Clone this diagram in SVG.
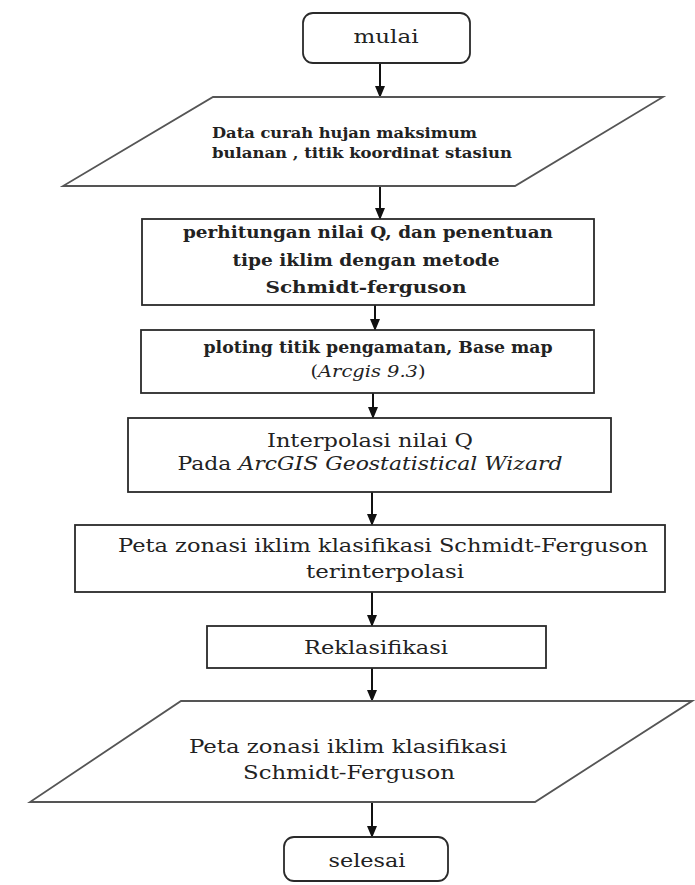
<svg xmlns="http://www.w3.org/2000/svg" width="695" height="885" viewBox="0 0 695 885">
<style>
.box{fill:#fff;stroke:#2a2a2a;stroke-width:1.8}
.io{fill:#fff;stroke:#555;stroke-width:1.8}
.t{font-family:"DejaVu Serif","Liberation Serif",serif;fill:#222}
.b{font-weight:bold}
.c{text-anchor:middle}
.conn{stroke:#111;stroke-width:2;fill:none;marker-end:url(#ah)}
</style>
<defs>
<marker id="ah" markerWidth="12" markerHeight="10" refX="11" refY="5" orient="auto" markerUnits="userSpaceOnUse" viewBox="0 0 12 10">
<path d="M0,0 L12,5 L0,10 Z" fill="#111"/>
</marker>
</defs>
<g id="connectors">
<line class="conn" x1="380" y1="63" x2="380" y2="97"/>
<line class="conn" x1="380" y1="186" x2="380" y2="219"/>
<line class="conn" x1="375" y1="305" x2="375" y2="330"/>
<line class="conn" x1="373" y1="393" x2="373" y2="418"/>
<line class="conn" x1="372" y1="492" x2="372" y2="525"/>
<line class="conn" x1="372" y1="592" x2="372" y2="626"/>
<line class="conn" x1="372" y1="668" x2="372" y2="701"/>
<line class="conn" x1="372" y1="802" x2="372" y2="837"/>
</g>
<g id="mulai">
<rect class="box" x="303" y="13" width="167" height="50" rx="10"/>
<text class="t c" x="386" y="43" font-size="18" textLength="65" lengthAdjust="spacingAndGlyphs">mulai</text>
</g>
<g id="data">
<polygon class="io" points="213,97 663,97 515,186 63,186"/>
<text class="t b" x="212" y="138" font-size="15" textLength="265" lengthAdjust="spacingAndGlyphs">Data curah hujan maksimum</text>
<text class="t b" x="212" y="158" font-size="15" textLength="300" lengthAdjust="spacingAndGlyphs">bulanan , titik koordinat stasiun</text>
</g>
<g id="perhitungan">
<rect class="box" x="142" y="219" width="452" height="86"/>
<text class="t b c" x="368" y="238" font-size="16" textLength="370" lengthAdjust="spacingAndGlyphs">perhitungan nilai Q, dan penentuan</text>
<text class="t b c" x="366" y="266" font-size="16" textLength="267" lengthAdjust="spacingAndGlyphs">tipe iklim dengan metode</text>
<text class="t b c" x="366" y="293" font-size="16" textLength="201" lengthAdjust="spacingAndGlyphs">Schmidt-ferguson</text>
</g>
<g id="ploting">
<rect class="box" x="141" y="330" width="453" height="63"/>
<text class="t b c" x="378" y="353" font-size="16" textLength="349" lengthAdjust="spacingAndGlyphs">ploting titik pengamatan, Base map</text>
<text class="t c" x="368" y="377" font-size="16" textLength="115" lengthAdjust="spacingAndGlyphs">(<tspan font-style="italic">Arcgis 9.3</tspan>)</text>
</g>
<g id="interpolasi">
<rect class="box" x="128" y="418" width="483" height="74"/>
<text class="t c" x="370" y="447" font-size="19" textLength="206" lengthAdjust="spacingAndGlyphs">Interpolasi nilai Q</text>
<text class="t c" x="370" y="470" font-size="19" textLength="385" lengthAdjust="spacingAndGlyphs">Pada <tspan font-style="italic">ArcGIS Geostatistical Wizard</tspan></text>
</g>
<g id="peta-terinterpolasi">
<rect class="box" x="75" y="525" width="590" height="67"/>
<text class="t c" x="383" y="552" font-size="19" textLength="530" lengthAdjust="spacingAndGlyphs">Peta zonasi iklim klasifikasi Schmidt-Ferguson</text>
<text class="t c" x="385" y="578" font-size="19" textLength="158" lengthAdjust="spacingAndGlyphs">terinterpolasi</text>
</g>
<g id="reklasifikasi">
<rect class="box" x="207" y="626" width="339" height="42"/>
<text class="t c" x="376" y="654" font-size="19" textLength="144" lengthAdjust="spacingAndGlyphs">Reklasifikasi</text>
</g>
<g id="peta-hasil">
<polygon class="io" points="181,701 692,701 535,802 30,802"/>
<text class="t c" x="348" y="753" font-size="19" textLength="318" lengthAdjust="spacingAndGlyphs">Peta zonasi iklim klasifikasi</text>
<text class="t c" x="349" y="779" font-size="19" textLength="212" lengthAdjust="spacingAndGlyphs">Schmidt-Ferguson</text>
</g>
<g id="selesai">
<rect class="box" x="284" y="837" width="164" height="44" rx="10"/>
<text class="t c" x="367" y="867" font-size="18" textLength="77" lengthAdjust="spacingAndGlyphs">selesai</text>
</g>
</svg>
